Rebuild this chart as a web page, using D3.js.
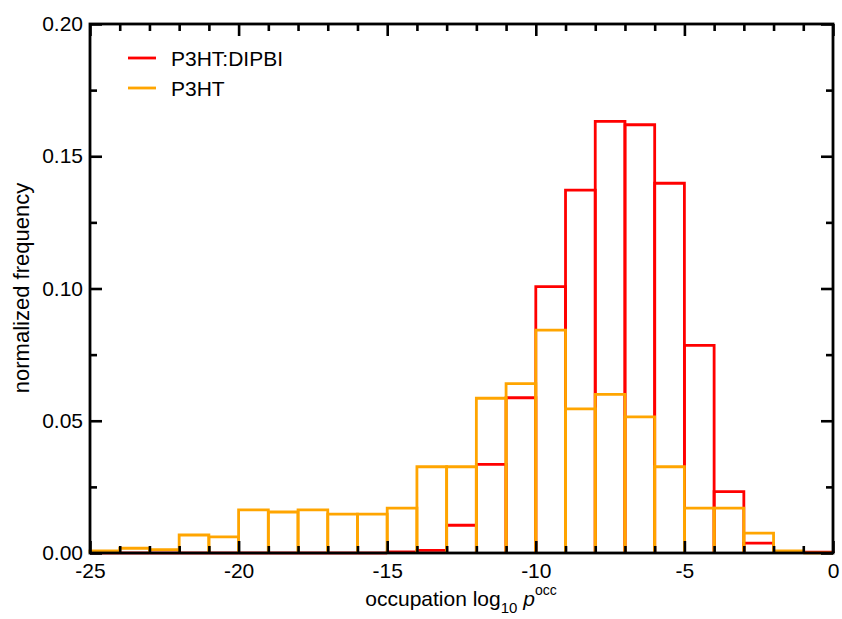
<!DOCTYPE html>
<html>
<head>
<meta charset="utf-8">
<script src="https://cdn.jsdelivr.net/npm/d3@7"></script>
<style>
  body { margin: 0; background: #fff; }
  svg { display: block; font-family: "Liberation Sans", Arial, Helvetica, sans-serif; }
</style>
</head>
<body>
<div id="chart"></div>
<script>
// bin starts (each bin is 1 unit wide)
const binStarts = [-25, -24, -23, -22, -21, -20, -19, -18, -17, -16, -15, -14, -13,
                   -12, -11, -10, -9, -8, -7, -6, -5, -4, -3, -2, -1];
const blendValues = [0, 0, 0, 0, 0, 0, 0, 0, 0, 0, 0.0004, 0.0010, 0.0105,
                     0.0335, 0.0587, 0.1007, 0.1372, 0.1632, 0.1619, 0.1398, 0.0785, 0.0232, 0.0037, 0.0002, 0.0003];
const p3htValues = [0.0008, 0.0018, 0.0013, 0.0068, 0.0061, 0.0163, 0.0155, 0.0163, 0.0147, 0.0147, 0.0170, 0.0326, 0.0326,
                    0.0585, 0.0640, 0.0843, 0.0545, 0.0600, 0.0515, 0.0326, 0.0170, 0.0170, 0.0075, 0.0008, 0];
const seriesNames = ["P3HT:DIPBI", "P3HT"];
const seriesColors = ["#ff0000", "#ffa500"];
const xMajorTicks = [-25, -20, -15, -10, -5, 0];
const xMinorTicks = [-24, -23, -22, -21, -19, -18, -17, -16, -14, -13, -12, -11, -9, -8, -7, -6, -4, -3, -2, -1];
const yMajorTicks = [0, 0.05, 0.10, 0.15, 0.20];
const yMinorTicks = [0.025, 0.075, 0.125, 0.175];

const width = 842, height = 619;
const m = { left: 90, right: 9, top: 24, bottom: 66 };

const svg = d3.select("#chart").append("svg")
    .attr("width", width).attr("height", height);

const x = d3.scaleLinear().domain([-25, 0]).range([m.left, width - m.right]);
const y = d3.scaleLinear().domain([0, 0.2]).range([height - m.bottom, m.top]);

// histogram outlines, red first, orange over it
[blendValues, p3htValues].forEach((vals, i) => {
    svg.append("g")
        .selectAll("path")
        .data(binStarts.map((b, k) => ({ x0: b, x1: b + 1, v: vals[k] })))
        .enter()
        .append("path")
        .attr("d", d => `M${x(d.x0)},${y(0)}V${y(d.v)}H${x(d.x1)}V${y(0)}`)
        .attr("fill", "none")
        .attr("stroke", seriesColors[i])
        .attr("stroke-width", 2.8);
});

// ticks on all four sides, pointing inward
const tickStyle = g => {
    g.select(".domain").remove();
    g.selectAll("line").attr("stroke", "#000").attr("stroke-width", 2.6);
    g.selectAll("text").attr("fill", "#000").style("font-size", "21px");
};
const addAxis = (axis, tr, vals, size, fmt, pad) => {
    svg.append("g").attr("transform", tr)
        .call(axis.tickValues(vals).tickSizeInner(-size).tickSizeOuter(0)
            .tickPadding(pad || 3).tickFormat(fmt || ""))
        .call(tickStyle);
};

addAxis(d3.axisBottom(x), `translate(0,${y(0)})`, xMajorTicks, 12, d => String(d), 10);
addAxis(d3.axisBottom(x), `translate(0,${y(0)})`, xMinorTicks, 7);
addAxis(d3.axisTop(x), `translate(0,${y(0.2)})`, xMajorTicks, 12);
addAxis(d3.axisTop(x), `translate(0,${y(0.2)})`, xMinorTicks, 7);
addAxis(d3.axisLeft(y), `translate(${x(-25)},0)`, yMajorTicks, 12, d3.format(".2f"), 7);
addAxis(d3.axisLeft(y), `translate(${x(-25)},0)`, yMinorTicks, 7);
addAxis(d3.axisRight(y), `translate(${x(0)},0)`, yMajorTicks, 12);
addAxis(d3.axisRight(y), `translate(${x(0)},0)`, yMinorTicks, 7);

// frame
svg.append("rect")
    .attr("x", x(-25)).attr("y", y(0.2))
    .attr("width", x(0) - x(-25)).attr("height", y(0) - y(0.2))
    .attr("fill", "none").attr("stroke", "#000").attr("stroke-width", 2.8);

// legend
const legend = svg.append("g").attr("transform", "translate(128,58)");
seriesNames.forEach((name, i) => {
    const row = legend.append("g").attr("transform", `translate(0,${i * 30})`);
    row.append("line").attr("x1", 0).attr("x2", 28).attr("y1", 0).attr("y2", 0)
        .attr("stroke", seriesColors[i]).attr("stroke-width", 2.8);
    row.append("text").attr("x", 43).attr("y", 8).style("font-size", "21px").text(name);
});

// axis titles
const xTitle = svg.append("text")
    .attr("x", 461).attr("y", 606)
    .attr("text-anchor", "middle").style("font-size", "21px");
xTitle.append("tspan").text("occupation log");
xTitle.append("tspan").attr("dy", 7).style("font-size", "15px").text("10");
xTitle.append("tspan").attr("dy", -7).style("font-style", "italic").text(" p");
xTitle.append("tspan").attr("dy", -11).style("font-size", "14px").text("occ");

svg.append("text")
    .attr("transform", `translate(29,288) rotate(-90)`)
    .attr("text-anchor", "middle").style("font-size", "22px")
    .text("normalized frequency");
</script>
</body>
</html>
